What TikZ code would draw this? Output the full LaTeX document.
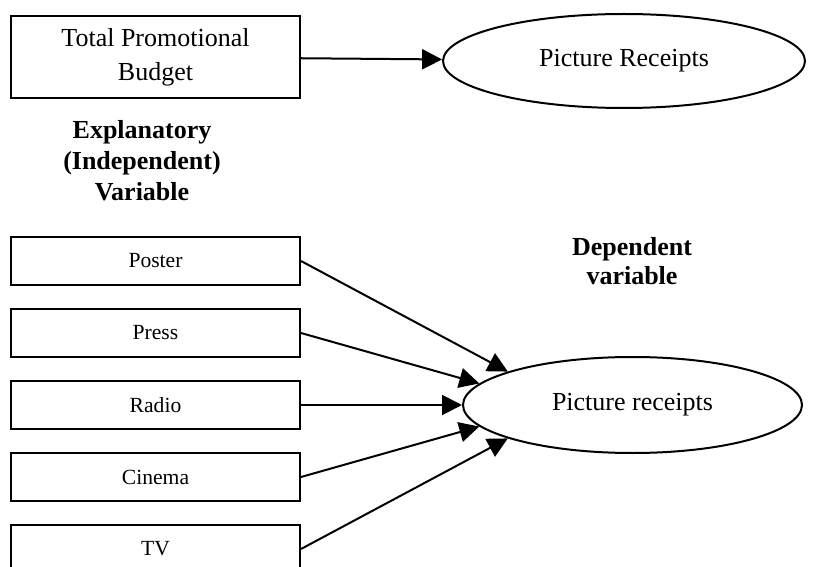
\documentclass[tikz,border=0pt]{standalone}
\usepackage{fontspec}
\setmainfont{Liberation Serif}
\usepackage{tikz}
\usetikzlibrary{arrows.meta, shapes}
\tikzstyle{line} = [draw, -{Triangle[length=10pt, width=10pt]}, line width=1pt]
\tikzstyle{bigbox} = [draw, line width=1pt, rectangle, fill=white, align=center, minimum width=144.5pt, minimum height=41pt, inner sep=0pt, font=\fontsize{13}{17}\selectfont]
\tikzstyle{media} = [draw, line width=1pt, rectangle, fill=white, text centered, minimum width=144.5pt, minimum height=24pt, inner sep=0pt, font=\fontsize{10.8}{13}\selectfont, node distance=36pt]
\tikzstyle{outcome} = [draw, line width=1pt, ellipse, inner sep=0pt, font=\fontsize{13}{15}\selectfont]
\tikzstyle{caption} = [align=center, font=\bfseries\fontsize{13}{15.5}\selectfont]

\begin{document}
\begin{tikzpicture}[x=0.5pt, y=-0.5pt]
                \useasboundingbox (0,0) rectangle (815,567);
                % Create Blocks

                \node [bigbox] (budget) at (155.5,57) {Total Promotional\\Budget};
                \node [outcome, minimum width=181pt, minimum height=47pt] (receipts) at (624,61) {Picture Receipts};

                \node [caption] (explanatory) at (142,161) {Explanatory\\(Independent)\\Variable};
                \node [caption, font=\bfseries\fontsize{13}{14.5}\selectfont] (dependent) at (632,261) {Dependent\\variable};

                \node [media] (poster) at (155.5,261) {Poster};
                \node [media, below of=poster] (press) {Press};
                \node [media, below of=press] (radio) {Radio};
                \node [media, below of=radio] (cinema) {Cinema};
                \node [media, below of=cinema] (tv) {TV};

                \node [outcome, minimum width=169.5pt, minimum height=48pt] (receipts2) at (632.5,405) {Picture receipts};

                % Add Arrows
                \path [line] (budget) -- (receipts);
                \path [line] (poster.east) -- (receipts2.165);
                \path [line] (press.east) -- (receipts2.172);
                \path [line] (radio.east) -- (receipts2.west);
                \path [line] (cinema.east) -- (receipts2.188);
                \path [line] (tv.east) -- (receipts2.195);
            \end{tikzpicture}
\end{document}
